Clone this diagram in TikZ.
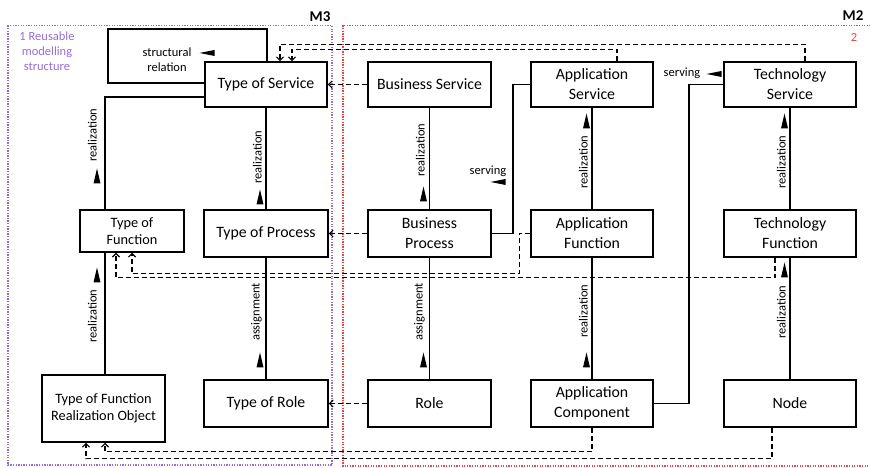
\documentclass[tikz,border=0pt]{standalone}
\usepackage{fontspec}
\setmainfont{Carlito}
\usetikzlibrary{arrows.meta,backgrounds,calc}

\definecolor{grpviolet}{RGB}{150,110,210}
\definecolor{grpred}{RGB}{232,70,70}

\tikzset{
  box/.style={draw, line width=1.5bp, fill=white, inner sep=0pt, align=center,
    font=\fontsize{15.8bp}{20bp}\selectfont},
  sbox/.style={box, font=\fontsize{14.3bp}{16.5bp}\selectfont},
  link/.style={line width=1.5bp},
  dep/.style={line width=1.3bp, dash pattern=on 5bp off 3bp,
    -{Straight Barb[length=3.5bp,width=7bp,line width=1.2bp]}},
  rel/.style={font=\fontsize{12.5bp}{15bp}\selectfont, inner sep=1bp},
  vlab/.style={rel, rotate=90, anchor=south},
  grpbox/.style={line width=1.2bp, dash pattern=on 1.3bp off 1.3bp},
  uptri/.pic={\fill (-3.5,7.5) -- (3.5,7.5) -- (0,-7.5) -- cycle;},
  lefttri/.pic={\fill (7.5,-3) -- (7.5,3) -- (-7.5,0) -- cycle;},
}

\begin{document}
\begin{tikzpicture}[x=1bp,y=-1bp]
\useasboundingbox (0,0) rectangle (870,468);

% ---------- M3 layer ----------
\node[box, minimum width=122bp, minimum height=45bp] (tos) at (266,84.5) {Type of Service};
\node[sbox, minimum width=104bp, minimum height=42bp] (tof) at (132,231) {Type of\\Function};
\node[box, minimum width=124bp, minimum height=47bp] (top) at (266,233.5) {Type of Process};
\node[sbox, minimum width=123bp, minimum height=67bp] (tfro) at (103.5,408.5) {Type of Function\\Realization Object};
\node[box, minimum width=124bp, minimum height=47bp] (tor) at (266,403.5) {Type of Role};

% ---------- M2 layer ----------
\node[box, minimum width=123bp, minimum height=45bp] (bs) at (429.5,84.5) {Business Service};
\node[box, minimum width=122bp, minimum height=45bp] (as) at (592,84.5) {Application\\Service};
\node[box, minimum width=132bp, minimum height=45bp] (ts) at (790,84.5) {Technology\\Service};
\node[box, minimum width=123bp, minimum height=47bp] (bp) at (429.5,233.5) {Business\\Process};
\node[box, minimum width=122bp, minimum height=47bp] (af) at (592,233.5) {Application\\Function};
\node[box, minimum width=132bp, minimum height=47bp] (tf) at (790,233.5) {Technology\\Function};
\node[box, minimum width=123bp, minimum height=47bp] (role) at (429.5,403.5) {Role};
\node[box, minimum width=122bp, minimum height=47bp] (ac) at (592,403.5) {Application\\Component};
\node[box, minimum width=132bp, minimum height=47bp] (nd) at (790,403.5) {Node};

% layer titles
\node[font=\bfseries\fontsize{15bp}{15bp}\selectfont, inner sep=0pt] (m3) at (320,16.5) {M3};
\node[font=\bfseries\fontsize{15bp}{15bp}\selectfont, inner sep=0pt] (m2) at (853,16) {M2};
\node[rel, text=grpviolet, align=center] (g1) at (47,51.5) {1 Reusable\\modelling\\structure};
\node[rel, text=grpred] (g2) at (854,37) {2};

\begin{scope}[on background layer]
  % group frames
  \draw[grpbox, grpviolet] (8,25.5) rectangle (332,465);
  \draw[grpbox, grpred] (343,25.5) rectangle (880,466);

  % structural relation loop on Type of Service
  \draw[link] ([yshift=1.5bp]tos.west) -| (108,29) -| ([xshift=1bp]tos.north);

  % realization / assignment relations
  \draw[link] ([yshift=-12.5bp]tos.west) -| ([xshift=-27bp]tof.north);
  \draw[link] ([xshift=-27bp]tof.south) -- ([xshift=-27bp]tof.south |- tfro.north);
  \draw[link] (tos.south) -- (top.north);
  \draw[link] (top.south) -- (tor.north);
  \draw[link] (bs.south) -- (bp.north);
  \draw[link] (bp.south) -- (role.north);
  \draw[link] (as.south) -- (af.north);
  \draw[link] (af.south) -- (ac.north);
  \draw[link] (ts.south) -- (tf.north);
  \draw[link] (tf.south) -- (nd.north);

  % serving relations
  \draw[link] (as.west) -| ([xshift=21bp]bp.east) -- (bp.east);
  \draw[link] (ts.west) -| ([xshift=35bp]ac.east) -- (ac.east);

  % typing (M2 -> M3)
  \draw[dep] (bs.west) -- (tos.east);
  \draw[dep] (bp.west) -- (top.east);
  \draw[dep] (role.west) -- (tor.east);
  \draw[dep] ([xshift=25bp]as.north) |- ([xshift=26bp,yshift=12bp]tos.north) -- ([xshift=26bp]tos.north);
  \draw[dep] ([xshift=15bp]ts.north) |- ([xshift=14bp,yshift=17bp]tos.north) -- ([xshift=14bp]tos.north);
  \draw[dep] (af.west) -- ++(-11,0) |- ([yshift=-21bp]tof.south) -- (tof.south);
  \draw[dep] ([xshift=-15bp]tf.south) |- ([xshift=-16bp,yshift=-25bp]tof.south) -- ([xshift=-16bp]tof.south);
  \draw[dep] (ac.south) |- ([xshift=1.5bp,yshift=-9bp]tfro.south) -- ([xshift=1.5bp]tfro.south);
  \draw[dep] ([xshift=-18bp]nd.south) |- ([xshift=-17.5bp,yshift=-16bp]tfro.south) -- ([xshift=-17.5bp]tfro.south);
\end{scope}

% relation labels and direction markers
\node[rel, align=center] (srl) at (167,59.5) {structural\\relation};
\pic at (207,53) {lefttri};

\node[vlab] (l1) at (98,135) {realization};
\pic at (97,176) {uptri};
\node[vlab] (l2) at (263,157) {realization};
\pic at (260,197) {uptri};
\node[vlab] (l3) at (426,150) {realization};
\pic at (423.5,194) {uptri};
\pic at (586.5,121) {uptri};
\node[vlab] (l4) at (589,162) {realization};
\pic at (784.5,121) {uptri};
\node[vlab] (l5) at (787,162) {realization};

\pic at (97,275) {uptri};
\node[vlab] (l6) at (98,316) {realization};
\node[vlab] (l7) at (263,312) {assignment};
\pic at (260,360) {uptri};
\node[vlab] (l8) at (426,312) {assignment};
\pic at (423.5,360) {uptri};
\node[vlab] (l9) at (589,311) {realization};
\pic at (586.5,360) {uptri};
\pic at (784.5,270) {uptri};
\node[vlab] (l10) at (787,312) {realization};

\node[rel] (sv1) at (682,73) {serving};
\pic at (714,74) {lefttri};
\node[rel] (sv2) at (488,171) {serving};
\pic at (498,182) {lefttri};

\end{tikzpicture}
\end{document}
